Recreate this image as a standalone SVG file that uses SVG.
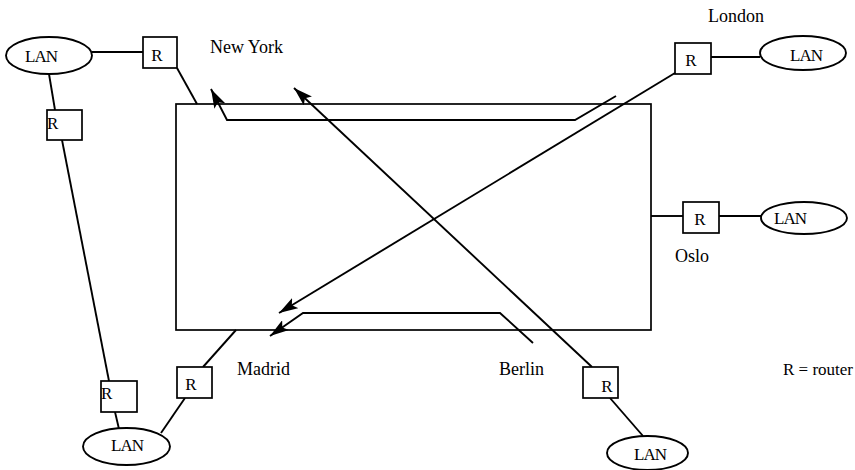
<svg xmlns="http://www.w3.org/2000/svg" width="855" height="470" viewBox="0 0 855 470">
  <style>
    .box { fill: #fff; stroke: #000; stroke-width: 1.7; }
    .lan { fill: #fff; stroke: #000; stroke-width: 1.9; }
    .wire { fill: none; stroke: #000; stroke-width: 1.9; }
    .route { fill: none; stroke: #000; stroke-width: 1.9; marker-end: url(#arrow); }
    .net { fill: none; stroke: #000; stroke-width: 1.7; }
    text { font-family: "Liberation Serif", "Times New Roman", serif; font-size: 18px; fill: #000; }
    .lanlbl { font-size: 17px; letter-spacing: -1px; text-anchor: middle; }
    .rlbl { font-size: 17px; text-anchor: middle; }
    .rleft { font-size: 17px; }
    .legend { font-size: 17px; text-anchor: end; }
  </style>
  <defs>
    <marker id="arrow" viewBox="0 0 19 12" refX="19" refY="6" markerWidth="19" markerHeight="12" markerUnits="userSpaceOnUse" orient="auto">
      <path d="M0,0 L19,6 L0,12 L4,6 Z" fill="#000"/>
    </marker>
  </defs>

  <rect width="855" height="470" fill="#fff"/>

  <!-- wide-area network -->
  <g id="wan">
    <rect class="net" x="176" y="104" width="475" height="226"/>
  </g>

  <!-- links and routed paths -->
  <g id="connectors">
    <line class="wire" x1="92" y1="52" x2="143" y2="52"/>
    <line class="wire" x1="177" y1="68" x2="197" y2="104"/>
    <line class="wire" x1="49" y1="74" x2="55" y2="110"/>
    <line class="wire" x1="62" y1="140" x2="109" y2="381"/>
    <line class="wire" x1="115" y1="412" x2="119" y2="429"/>
    <line class="wire" x1="161" y1="433" x2="185" y2="398"/>
    <line class="wire" x1="203" y1="367" x2="236" y2="330"/>
    <line class="wire" x1="610" y1="398" x2="643" y2="436"/>
    <line class="wire" x1="711" y1="57" x2="760" y2="57"/>
    <line class="wire" x1="651" y1="216" x2="683" y2="216"/>
    <line class="wire" x1="719" y1="216" x2="761" y2="216"/>
    <!-- Berlin to New York -->
    <line class="route" x1="592" y1="367" x2="294" y2="88"/>
    <!-- London to Madrid -->
    <line class="route" x1="675" y1="73" x2="279" y2="313"/>
    <!-- routed paths inside the network -->
    <polyline class="route" points="616,96 575,120 227,120 211,89"/>
    <polyline class="route" points="533,343 500,313 303,313 270,336"/>
  </g>

  <!-- New York site -->
  <g id="newyork-lan">
    <ellipse class="lan" cx="49" cy="55.5" rx="43" ry="18.5"/>
    <text class="lanlbl" x="41" y="62">LAN</text>
  </g>
  <g id="newyork-router">
    <rect class="box" x="143" y="37" width="34" height="31"/>
    <text class="rlbl" x="157" y="61">R</text>
  </g>
  <text x="210" y="53">New York</text>

  <!-- routers on the left link -->
  <g id="left-router-upper">
    <rect class="box" x="47" y="110" width="35" height="30"/>
    <text class="rleft" x="47" y="129">R</text>
  </g>
  <g id="left-router-lower">
    <rect class="box" x="101" y="381" width="36" height="31"/>
    <text class="rleft" x="101" y="399">R</text>
  </g>

  <!-- Madrid site -->
  <g id="madrid-lan">
    <ellipse class="lan" cx="126.5" cy="446.5" rx="43.5" ry="18.5"/>
    <text class="lanlbl" x="127" y="451">LAN</text>
  </g>
  <g id="madrid-router">
    <rect class="box" x="177" y="367" width="35" height="31"/>
    <text class="rlbl" x="191" y="390">R</text>
  </g>
  <text x="237" y="375">Madrid</text>

  <!-- Berlin site -->
  <text x="499" y="375">Berlin</text>
  <g id="berlin-router">
    <rect class="box" x="583" y="367" width="35" height="31"/>
    <text class="rlbl" x="607" y="392">R</text>
  </g>
  <g id="berlin-lan">
    <ellipse class="lan" cx="647.5" cy="453" rx="40.5" ry="17"/>
    <text class="lanlbl" x="650" y="460">LAN</text>
  </g>

  <!-- London site -->
  <text x="708" y="22">London</text>
  <g id="london-router">
    <rect class="box" x="675" y="43" width="36" height="31"/>
    <text class="rlbl" x="691" y="66">R</text>
  </g>
  <g id="london-lan">
    <ellipse class="lan" cx="803" cy="53" rx="43" ry="17"/>
    <text class="lanlbl" x="806" y="61">LAN</text>
  </g>

  <!-- Oslo site -->
  <g id="oslo-router">
    <rect class="box" x="683" y="202" width="36" height="31"/>
    <text class="rlbl" x="700" y="225">R</text>
  </g>
  <g id="oslo-lan">
    <ellipse class="lan" cx="804" cy="218" rx="43" ry="16"/>
    <text class="lanlbl" x="790" y="224">LAN</text>
  </g>
  <text x="675" y="262">Oslo</text>

  <!-- legend -->
  <text class="legend" x="853" y="375">R = router</text>
</svg>
